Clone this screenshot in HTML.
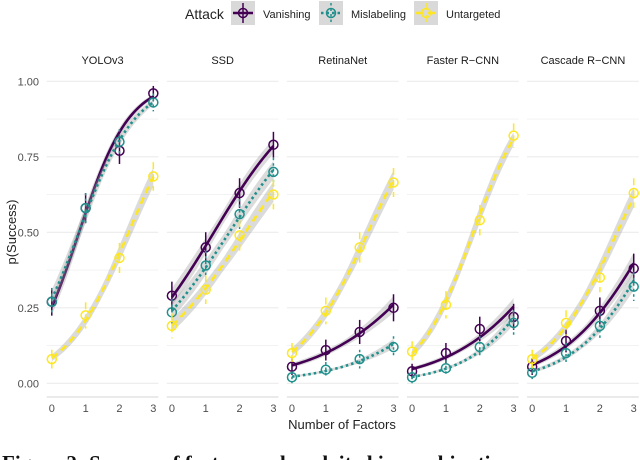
<!DOCTYPE html>
<html><head><meta charset="utf-8"><style>
body{margin:0;background:#fff;width:640px;height:460px;overflow:hidden;font-family:"Liberation Sans",sans-serif}
svg{display:block}
</style></head><body>
<svg id="c" width="640" height="460" xmlns="http://www.w3.org/2000/svg"></svg>
<script>
const panels=["YOLOv3","SSD","RetinaNet","Faster R\u2212CNN","Cascade R\u2212CNN"];
const factors=[0,1,2,3];
const yTicks=[0,0.25,0.5,0.75,1];
const yTickLabels=["0.00","0.25","0.50","0.75","1.00"];
const attacks=["Vanishing","Mislabeling","Untargeted"];
const vanishing=[[.27,.58,.77,.96],[.29,.45,.63,.79],[.055,.11,.17,.25],[.04,.10,.18,.22],[.055,.14,.24,.38]];
const mislabeling=[[.27,.58,.80,.93],[.235,.39,.56,.70],[.02,.045,.08,.12],[.02,.05,.12,.20],[.035,.10,.19,.32]];
const untargeted=[[.08,.225,.415,.685],[.19,.31,.49,.625],[.10,.24,.45,.665],[.105,.26,.54,.82],[.08,.20,.35,.63]];
const series=[vanishing,mislabeling,untargeted];
const colors=["#440154","#21908C","#FDE725"];
const dashes=["","2.5,3","7,5"];
const NS="http://www.w3.org/2000/svg";
const svg=document.getElementById('c');
function mk(t,a,p){const e=document.createElementNS(NS,t);for(const k in a)e.setAttribute(k,a[k]);(p||svg).appendChild(e);return e;}
const px0=46.7,pw=111.7,step=120.1;
const y0=383.3,y1=81.3;
function ys(v){return y0+(y1-y0)*v;}
function xs(p,v){return px0+p*step+pw*(0.15+v)/3.3;}
const logit=p=>Math.log(p/(1-p)), inv=z=>1/(1+Math.exp(-z));
function fit(vals){const n=vals.length;let mx=0,my=0;const ly=vals.map(logit);factors.forEach((x,i)=>{mx+=x/n;my+=ly[i]/n});let sxy=0,sxx=0;factors.forEach((x,i)=>{sxy+=(x-mx)*(ly[i]-my);sxx+=(x-mx)*(x-mx)});const b=sxy/sxx;return [my-b*mx,b];}
let t=mk('text',{x:185,y:19,'font-size':14,fill:'#222'});t.textContent="Attack";

const keyX=[231,319,414];
attacks.forEach((a,i)=>{const g=mk('g',{});


mk('rect',{x:keyX[i],y:1,width:24,height:24,fill:'#d9d9d9'},g);
mk('line',{x1:keyX[i]+2,y1:13,x2:keyX[i]+22,y2:13,stroke:colors[i],'stroke-width':2.5,'stroke-dasharray':dashes[i]},g);
mk('line',{x1:keyX[i]+12,y1:3,x2:keyX[i]+12,y2:23,stroke:colors[i],'stroke-width':1.5,'stroke-dasharray':dashes[i]},g);
mk('circle',{cx:keyX[i]+12,cy:13,r:4.5,fill:'none',stroke:colors[i],'stroke-width':1.5},g);
const tx=mk('text',{x:keyX[i]+32,y:18,'font-size':11,fill:'#222'},g);tx.textContent=a;});
yTicks.forEach((v,i)=>{const l=mk('text',{x:39,y:ys(v)+4,'font-size':11,fill:'#4d4d4d','text-anchor':'end'});l.textContent=yTickLabels[i];
});
t=mk('text',{x:0,y:0,'font-size':13,fill:'#222','text-anchor':'middle',transform:'translate(16,232) rotate(-90)'});t.textContent="p(Success)";

t=mk('text',{x:342,y:429,'font-size':13,fill:'#222','text-anchor':'middle'});t.textContent="Number of Factors";

panels.forEach((name,p)=>{
const g=mk('g',{});


const L=px0+p*step;
for(let v=0;v<=1.0001;v+=0.125){mk('line',{x1:L,x2:L+pw,y1:ys(v),y2:ys(v),stroke:'#ebebeb','stroke-width':(Math.round(v*8)%2==0)?1.1:0.6},g);}
mk('line',{x1:L,x2:L+pw,y1:397,y2:397,stroke:'#dedede','stroke-width':1.2},g);
const st=mk('text',{x:L+pw/2,y:64,'font-size':11,fill:'#1a1a1a','text-anchor':'middle'},g);st.textContent=name;
factors.forEach(f=>{const tl=mk('text',{x:xs(p,f),y:412,'font-size':11,fill:'#4d4d4d','text-anchor':'middle'},g);tl.textContent=f;});
series.forEach((s,k)=>{const vals=s[p];const [a,b]=fit(vals);const se=0.09;
let up=[],dn=[],ln=[];
for(let j=0;j<=40;j++){const x=3*j/40;const z=a+b*x;const w=se*(1+0.4*Math.abs(x-1.5));ln.push(xs(p,x)+','+ys(inv(z)));up.push(xs(p,x)+','+ys(inv(z+w)));dn.unshift(xs(p,x)+','+ys(inv(z-w)));}
mk('polygon',{points:up.concat(dn).join(' '),fill:'#999','fill-opacity':0.35},g);
const sl=mk('polyline',{points:ln.join(' '),fill:'none',stroke:colors[k],'stroke-width':2.6,'stroke-dasharray':dashes[k]},g);


vals.forEach((v,i)=>{const e=0.085*Math.sqrt(v*(1-v))+0.008;
mk('line',{x1:xs(p,i),x2:xs(p,i),y1:ys(Math.min(1,v+e)),y2:ys(Math.max(0,v-e)),stroke:colors[k],'stroke-width':1.5,'stroke-dasharray':dashes[k]},g);
const c=mk('circle',{cx:xs(p,i),cy:ys(v),r:4.5,fill:'none',stroke:colors[k],'stroke-width':1.5},g);

});
});
});
t=mk('text',{x:2,y:470,'font-size':21,'font-weight':'bold','font-family':'Liberation Serif, serif',fill:'#111'});t.textContent="Figure 2: Success of factors and exploited in combination";

</script>
</body></html>
